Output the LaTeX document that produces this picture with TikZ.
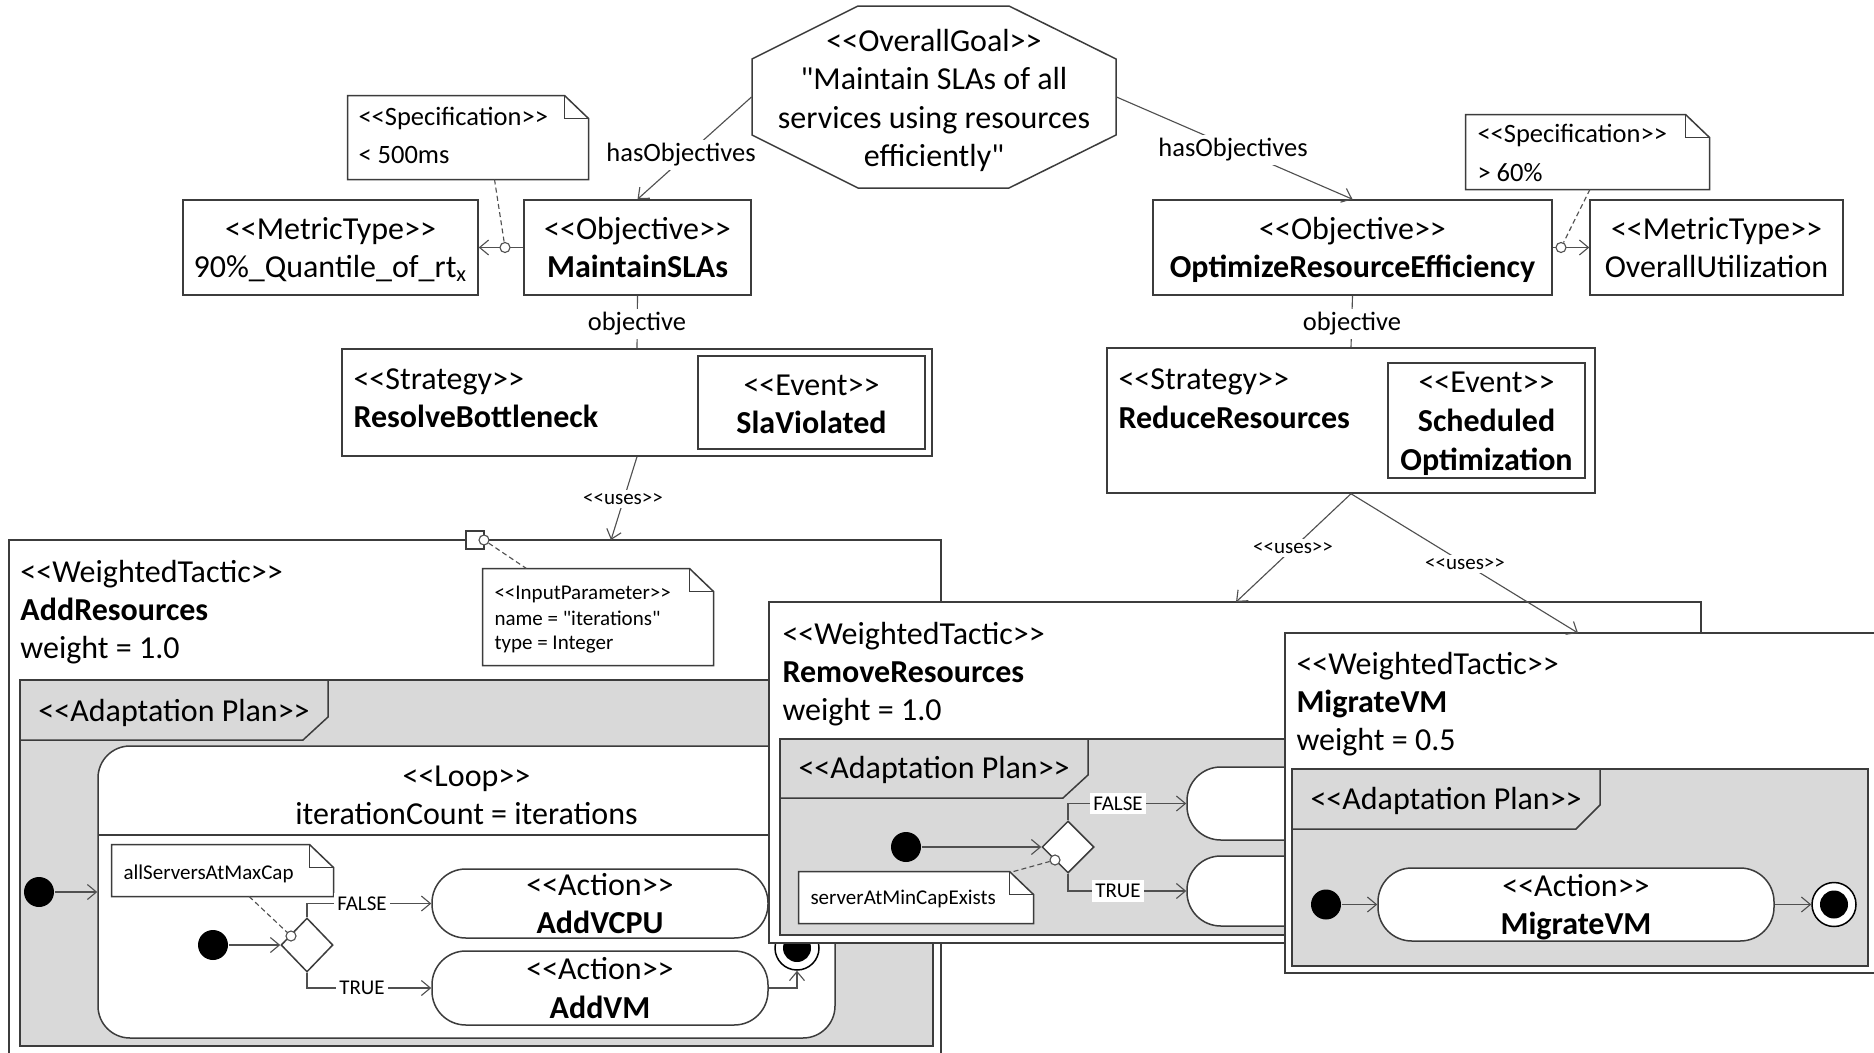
\documentclass[tikz,border=0pt]{standalone}
\usepackage{fontspec}
\setmainfont{Carlito}[Ligatures=TeXOff]
\usetikzlibrary{arrows.meta,shapes.geometric,fit,calc}
\definecolor{linegray}{HTML}{3C3C3C}
\definecolor{conngray}{HTML}{505050}
\definecolor{plangray}{HTML}{D9D9D9}
\newcommand\upx{0.4pt}
% outline of a note with a folded top-right corner, drawn around an empty node
\newcommand\notefold[1]{%
  \draw[box,fill=white] (#1.south west) -- (#1.north west) -- ([xshift=-24*\upx]#1.north east)
    -- ([yshift=-23*\upx]#1.north east) -- (#1.south east) -- cycle;
  \draw[box] ([xshift=-24*\upx]#1.north east) |- ([yshift=-23*\upx]#1.north east);}

\begin{document}
\begin{tikzpicture}[x=0.4pt,y=-0.4pt,
  box/.style={draw=linegray,line width=0.6pt,inner sep=0pt},
  conn/.style={draw=conngray,line width=0.45pt},
  arr/.style={conn,-{Straight Barb[length=3.6pt,width=6pt]}},
  dashln/.style={conn,dash pattern=on 2pt off 1.3pt},
  big/.style={font=\fontsize{12.8}{15}\selectfont,inner sep=0pt},
  bigbf/.style={font=\fontsize{12.8}{15}\selectfont\bfseries,inner sep=0pt},
  mid/.style={font=\fontsize{10.6}{12.5}\selectfont,inner sep=0pt},
  sml/.style={font=\fontsize{8.4}{10}\selectfont,inner sep=0pt},
  lbl/.style={fill=white,inner sep=1.5pt},
  startnode/.style={circle,fill=black,inner sep=0pt,minimum size=30*\upx},
  endring/.style={circle,draw=black,line width=0.6pt,fill=white,inner sep=0pt,minimum size=44*\upx},
  enddot/.style={circle,fill=black,inner sep=0pt,minimum size=28*\upx},
  decision/.style={diamond,draw=linegray,line width=0.6pt,fill=white,inner sep=0pt,
    minimum width=52*\upx,minimum height=54*\upx},
  joint/.style={circle,draw=conngray,line width=0.45pt,fill=white,inner sep=0pt,minimum size=10*\upx},
  action/.style={box,fill=white,rounded corners=13.5pt},
]
\fill[white] (0,0) rectangle (1874,1053);
\useasboundingbox (0,0) rectangle (1874,1053);

% ---------- overall goal ----------
\draw[box,fill=white] (858,6) -- (1009,6) -- (1116,59) -- (1116,135) -- (1009,188)
  -- (858,188) -- (752,135) -- (752,59) -- cycle;
\node[fit={(752,6) (1116,188)},inner sep=0pt] (goal) {};
\node[big,anchor=base] (goal1) at (934,52) {<<OverallGoal>>};
\node[big,anchor=base] (goal2) at (934,90) {"Maintain SLAs of all};
\node[big,anchor=base] (goal3) at (934,128) {services using resources};
\node[big,anchor=base] (goal4) at (934,166) {efficiently"};

% ---------- left objective ----------
\node[fit={(348,96) (588,179)},inner sep=0pt] (specL) {};
\notefold{specL}
\node[mid,anchor=base west] (specL1) at (358,125) {<<Specification>>};
\node[mid,anchor=base west] (specL2) at (358,163) {< 500ms};

\node[box,fit={(183,200) (478,295)}] (metL) {};
\node[big,anchor=base] (metL1) at (330.5,239) {<<MetricType>>};
\node[big,anchor=base] (metL2) at (330.5,277) {90\%\_Quantile\_of\_rt\textsubscript{x}};

\node[box,fit={(524,200) (751,295)}] (objL) {};
\node[big,anchor=base] (objL1) at (637.5,239) {<<Objective>>};
\node[bigbf,anchor=base] (objL2) at (637.5,277) {MaintainSLAs};

\draw[arr] (objL.west) -- (metL.east);
\node[joint] (jL) at (505,247.5) {};
\draw[dashln] ($(specL.south west)!0.61!(specL.south east)$) -- (jL);

\node[box,fill=white,fit={(342,349) (932,456)}] (stratL) {};
\node[big,anchor=base west] (stratL1) at (353,389) {<<Strategy>>};
\node[bigbf,anchor=base west] (stratL2) at (353,427) {ResolveBottleneck};
\node[box,fit={(698,356) (925,449)}] (evL) {};
\node[big,anchor=base] (evL1) at (811.5,395) {<<Event>>};
\node[bigbf,anchor=base] (evL2) at (811.5,433) {SlaViolated};

\draw[arr] (goal.west) -- (objL.north);
\node[mid,lbl] (hoL) at (681,155) {hasObjectives};
\draw[conn] (objL.south) -- (stratL.north);
\node[mid,lbl] (obL) at (637,324) {objective};

% ---------- right objective ----------
\node[fit={(1466,115) (1709,189)},inner sep=0pt] (specR) {};
\notefold{specR}
\node[mid,anchor=base west] (specR1) at (1477,142) {<<Specification>>};
\node[mid,anchor=base west] (specR2) at (1477,181) {> 60\%};

\node[box,fit={(1153,200) (1552,295)}] (objR) {};
\node[big,anchor=base] (objR1) at (1352.5,239) {<<Objective>>};
\node[bigbf,anchor=base] (objR2) at (1352.5,277) {OptimizeResourceEfficiency};

\node[box,fit={(1590,200) (1843,295)}] (metR) {};
\node[big,anchor=base] (metR1) at (1716.5,239) {<<MetricType>>};
\node[big,anchor=base] (metR2) at (1716.5,277) {OverallUtilization};

\draw[arr] (objR.east) -- (metR.west);
\node[joint] (jR) at (1561,247.5) {};
\draw[dashln] ($(specR.south west)!0.51!(specR.south east)$) -- (jR);

\node[box,fill=white,fit={(1107,348) (1595,493)}] (stratR) {};
\node[big,anchor=base west] (stratR1) at (1118,389) {<<Strategy>>};
\node[bigbf,anchor=base west] (stratR2) at (1118,428) {ReduceResources};
\node[box,fit={(1388,363) (1585,478)}] (evR) {};
\node[big,anchor=base] (evR1) at (1486.5,392) {<<Event>>};
\node[bigbf,anchor=base] (evR2) at (1486.5,431) {Scheduled};
\node[bigbf,anchor=base] (evR3) at (1486.5,470) {Optimization};

\draw[arr] (goal.east) -- (objR.north);
\node[mid,lbl] (hoR) at (1233,150) {hasObjectives};
\draw[conn] (objR.south) -- (stratR.north);
\node[mid,lbl] (obR) at (1352,324) {objective};

% ---------- tactic AddResources ----------
\node[box,fill=white,fit={(9,540) (941,1060)}] (tacA) {};
\node[big,anchor=base west] (tacA1) at (20,582) {<<WeightedTactic>>};
\node[bigbf,anchor=base west] (tacA2) at (20,620) {AddResources};
\node[big,anchor=base west] (tacA3) at (20,658) {weight = 1.0};

\node[box,fill=plangray,fit={(20,680) (933,1046)}] (planA) {};
\draw[box] (328,680) -- (328,717) -- (303,740) -- (20,740);
\node[big,anchor=base west] (planA1) at (38,721) {<<Adaptation Plan>>};

\node[box,fill=white,rounded corners=12.8pt,fit={(98,746) (835,1038)}] (loop) {};
\draw[box] (98,835) -- (835,835);
\node[big,anchor=base] (loop1) at (466.5,786) {<<Loop>>};
\node[big,anchor=base] (loop2) at (466.5,824) {iterationCount = iterations};

\node[startnode] (init1) at (39,892) {};
\draw[arr] (init1) -- (loop.west);

\node[fit={(112,845) (333,896)},inner sep=0pt] (noteMax) {};
\notefold{noteMax}
\node[sml,anchor=base west] (noteMax1) at (123,879) {allServersAtMaxCap};

\node[decision] (dec1) at (307,945) {};
\node[startnode] (init2) at (213,945) {};
\draw[arr] (init2) -- (dec1.west);

\node[action,fit={(432,869) (768,938)}] (actVCPU) {};
\node[big,anchor=base] (actVCPU1) at (600,895) {<<Action>>};
\node[bigbf,anchor=base] (actVCPU2) at (600,933) {AddVCPU};
\node[action,fit={(432,951) (768,1025)}] (actVM) {};
\node[big,anchor=base] (actVM1) at (600,979) {<<Action>>};
\node[bigbf,anchor=base] (actVM2) at (600,1018) {AddVM};

\draw[arr] (dec1.north) |- (actVCPU.west);
\node[sml,lbl] (f1) at (362,903.5) {FALSE};
\draw[arr] (dec1.south) |- (actVM.west);
\node[sml,lbl] (t1) at (362,988) {TRUE};

\node[joint] (jD1) at (291,936) {};
\draw[dashln] ($(noteMax.south west)!0.62!(noteMax.south east)$) -- (jD1);

\node[endring] (fin1) at (797,948) {};
\node[enddot] (fin1c) at (797,948) {};
\draw[arr] (actVM.east) -| (fin1.south);

\node[fit={(483,569) (713,665)},inner sep=0pt] (noteIP) {};
\notefold{noteIP}
\node[sml,anchor=base west] (noteIP1) at (494,599) {<<InputParameter>>};
\node[sml,anchor=base west] (noteIP2) at (494,625) {name = "iterations"};
\node[sml,anchor=base west] (noteIP3) at (494,649) {type = Integer};
\node[box,fill=white,minimum size=18*\upx] (port) at (475,540) {};
\node[joint] (jP) at (484,540) {};
\draw[dashln] (jP) -- ($(noteIP.north west)!0.19!(noteIP.north east)$);

% ---------- tactic RemoveResources ----------
\node[box,fill=white,fit={(769,602) (1701,943)}] (tacR) {};
\node[big,anchor=base west] (tacR1) at (782,644) {<<WeightedTactic>>};
\node[bigbf,anchor=base west] (tacR2) at (782,682) {RemoveResources};
\node[big,anchor=base west] (tacR3) at (782,720) {weight = 1.0};

\node[box,fill=plangray,fit={(780,739) (1690,935)}] (planR) {};
\draw[box] (1088,739) -- (1088,775) -- (1063,798) -- (780,798);
\node[big,anchor=base west] (planR1) at (798,778) {<<Adaptation Plan>>};

\node[startnode] (init3) at (906,847) {};
\node[decision,minimum height=52*\upx] (dec2) at (1068,847) {};
\draw[arr] (init3) -- (dec2.west);
\node[action,fit={(1187,767) (1420,840)}] (actR1) {};
\node[action,fit={(1187,856) (1420,926)}] (actR2) {};
\draw[arr] (dec2.north) |- (actR1.west);
\node[sml,lbl] (f2) at (1118,803.5) {FALSE};
\draw[arr] (dec2.south) |- (actR2.west);
\node[sml,lbl] (t2) at (1118,891) {TRUE};

\node[fit={(799,872) (1033,923)},inner sep=0pt] (noteMin) {};
\notefold{noteMin}
\node[sml,anchor=base west] (noteMin1) at (810,904) {serverAtMinCapExists};
\node[joint] (jD2) at (1055,860) {};
\draw[dashln] ($(noteMin.north west)!0.915!(noteMin.north east)$) -- (jD2);

% ---------- tactic MigrateVM ----------
\node[box,fill=white,fit={(1285,633) (1885,973)}] (tacM) {};
\node[big,anchor=base west] (tacM1) at (1296,674) {<<WeightedTactic>>};
\node[bigbf,anchor=base west] (tacM2) at (1296,712) {MigrateVM};
\node[big,anchor=base west] (tacM3) at (1296,750) {weight = 0.5};

\node[box,fill=plangray,fit={(1292,769) (1868,966)}] (planM) {};
\draw[box] (1600,769) -- (1600,805) -- (1576,829) -- (1292,829);
\node[big,anchor=base west] (planM1) at (1310,809) {<<Adaptation Plan>>};

\node[startnode] (init4) at (1326,904.5) {};
\node[action,fit={(1378,868) (1774,941)}] (actMig) {};
\node[big,anchor=base] (actMig1) at (1576,896) {<<Action>>};
\node[bigbf,anchor=base] (actMig2) at (1576,934) {MigrateVM};
\node[endring] (fin2) at (1834,904.5) {};
\node[enddot] (fin2c) at (1834,904.5) {};
\draw[arr] (init4) -- (actMig.west);
\draw[arr] (actMig.east) -- (fin2.west);

% ---------- uses dependencies ----------
\coordinate (usesA) at (611,540);
\coordinate (usesR) at (1236,602);
\coordinate (usesM) at (1578,633);
\draw[arr] (stratL.south) -- (usesA);
\node[sml,lbl] (uL) at (623,499) {<<uses>>};
\draw[arr] (stratR.south) -- (usesR);
\node[sml,lbl] (uR) at (1293,548) {<<uses>>};
\draw[arr] (stratR.south) -- (usesM);
\node[sml,lbl] (uM) at (1465,564) {<<uses>>};
\end{tikzpicture}
\end{document}
